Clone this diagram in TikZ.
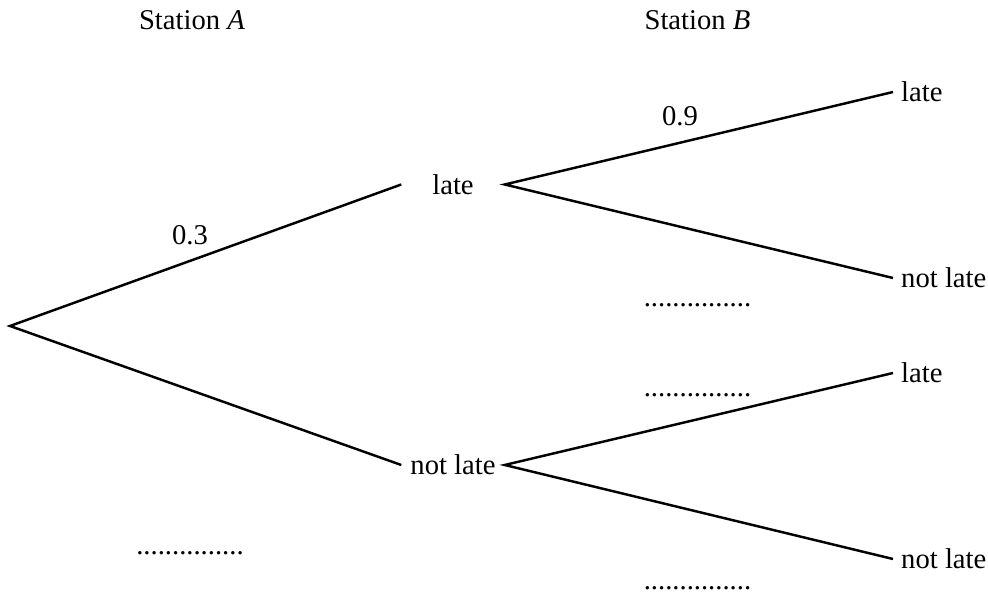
\documentclass[tikz,border=0pt]{standalone}
\usepackage{fontspec}
\setmainfont{Liberation Serif}
\usetikzlibrary{calc}

\begin{document}
\begin{tikzpicture}[line width=1.4pt,
		every node/.style={font=\fontsize{16.3}{19.5}\selectfont},
		mid/.style={minimum width=2.02cm,inner sep=0pt},
		leaf/.style={anchor=west,inner xsep=0.14cm,inner ysep=0pt},
		lab/.style={anchor=base,inner sep=0pt}]
		\useasboundingbox (0,0) rectangle (19.76,12.04);
		% headings
		\node[lab] (stA) at (3.84,11.44) {Station \textit{A}};
		\node[lab] (stB) at (13.95,11.44) {Station \textit{B}};
		
		\coordinate (root) at (0.2,5.52);
		\node[mid] (late) at (9.06,8.35) {late};
		\node[mid] (notlate) at (9.06,2.74) {not late};
		
		\node[leaf] (ll) at (17.86,10.2) {late};
		\node[leaf] (ln) at (17.86,6.48) {not late};
		\node[leaf] (nl) at (17.86,4.58) {late};
		\node[leaf] (nn) at (17.86,0.86) {not late};
		
		\draw (late.west) -- (root) -- (notlate.west);
		\draw (ll.west) -- (late.east) -- (ln.west);
		\draw (nl.west) -- (notlate.east) -- (nn.west);
		
		% probabilities
		\node[lab] (pA) at (3.8,7.14) {0.3};
		\node[lab] (pB) at (13.6,9.52) {0.9};
		\node[lab] (qA) at (3.8,0.94) {...............};
		\node[lab] (qB) at (13.95,5.9) {...............};
		\node[lab] (qC) at (13.95,4.1) {...............};
		\node[lab] (qD) at (13.95,0.24) {...............};
\end{tikzpicture}
\end{document}
